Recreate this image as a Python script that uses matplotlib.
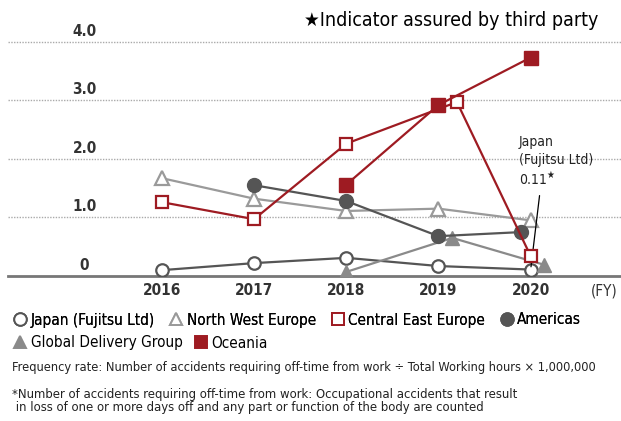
import matplotlib.pyplot as plt
from matplotlib.lines import Line2D

plt.rcParams['font.family'] = ['DejaVu Sans']
plt.rcParams['font.stretch'] = 'condensed'

years = [2016, 2017, 2018, 2019, 2020]
yticks = [0, 1.0, 2.0, 3.0, 4.0]
ytick_labels = ['0', '1.0', '2.0', '3.0', '4.0']

japan = [0.10, 0.22, 0.31, 0.17, 0.11]
nw_europe = [1.67, 1.32, 1.11, 1.15, 0.95]
ce_europe = [1.26, 0.97, 2.26, 2.97, 0.34]
americas_years = [2017, 2018, 2019, 2020]
americas = [1.55, 1.28, 0.68, 0.75]
gdg_years = [2018, 2019, 2020]
gdg = [0.07, 0.65, 0.19]
oceania_years = [2018, 2019, 2020]
oceania = [1.56, 2.92, 3.73]

red = '#9e1b22'
dark = '#555555'
light = '#9a9a9a'
mid = '#8a8a8a'

fig = plt.figure(figsize=(6.21, 4.21), dpi=100)
ax = fig.add_axes([8 / 621, 1 - 276 / 421, 613 / 621, 246 / 421])
ax.set_xlim(2014.33, 2020.98)
ax.set_ylim(0, 4.2)

# small horizontal nudges so overlapping markers stay visible
ce_shift = [0, 0, 0, 0.2, 0]
am_shift = [0, 0, 0, -0.1]
gdg_shift = [0, 0.15, 0.15]

ax.plot(years, japan, color=dark, lw=1.6, marker='o', ms=9,
        mfc='white', mec=dark, mew=1.6, zorder=3)
ax.plot(years, nw_europe, color=light, lw=1.6, marker='^', ms=10,
        mfc='white', mec=light, mew=1.6, zorder=3)
ax.plot([y + s for y, s in zip(gdg_years, gdg_shift)], gdg, color=mid, lw=1.6,
        marker='^', ms=10, mfc=mid, mec=mid, zorder=3)
ax.plot([y + s for y, s in zip(americas_years, am_shift)], americas, color=dark,
        lw=1.6, marker='o', ms=10, mfc=dark, mec=dark, zorder=4)
ax.plot([y + s for y, s in zip(years, ce_shift)], ce_europe, color=red, lw=1.6,
        marker='s', ms=9, mfc='white', mec=red, mew=1.6, zorder=5)
ax.plot(oceania_years, oceania, color=red, lw=1.6, marker='s', ms=10,
        mfc=red, mec=red, zorder=5)

# gridlines and axis
for v in yticks[1:]:
    ax.axhline(v, color='#aaaaaa', lw=1, ls=(0, (1, 1)), zorder=1)
for sp in ax.spines.values():
    sp.set_visible(False)
ax.axhline(0, color='#777777', lw=2, zorder=2, clip_on=False)
ax.set_xticks([])
ax.set_yticks([])
for v, lab in zip(yticks, ytick_labels):
    ax.text(2015.16, v + 0.05, lab, ha='center', va='bottom', fontsize=11,
            fontweight='bold', color='#333333')
for y in years:
    ax.text(y, -0.12, str(y), ha='center', va='top', fontsize=11,
            fontweight='bold', color='#333333', clip_on=False)
ax.text(2020.8, -0.12, '(FY)', ha='center', va='top', fontsize=11,
        color='#333333', clip_on=False)

# annotation
ax.annotate('', xy=(2020, 0.11), xytext=(2020.1, 1.42),
            arrowprops=dict(arrowstyle='-', color='black', lw=0.9))
ax.text(2019.87, 1.5, 'Japan\n(Fujitsu Ltd)\n0.11$^\u2605$', ha='left', va='bottom',
        fontsize=10, color='#222222', linespacing=1.3)

fig.text(598 / 621, 1 - 20 / 421, '\u2605Indicator assured by third party',
         ha='right', va='center', fontsize=14, color='black')

# legend
row1 = [('Japan (Fujitsu Ltd)', 'o', 'white', dark),
        ('North West Europe', '^', 'white', light),
        ('Central East Europe', 's', 'white', red),
        ('Americas', 'o', dark, dark)]
row2 = [('Global Delivery Group', '^', mid, mid),
        ('Oceania', 's', red, red)]
h1 = [Line2D([], [], ls='none', marker=m, ms=9, mfc=f, mec=e, mew=1.4, label=l)
      for l, m, f, e in row1]
h2 = [Line2D([], [], ls='none', marker=m, ms=9, mfc=f, mec=e, mew=1.4, label=l)
      for l, m, f, e in row2]
leg1 = fig.legend(handles=h1, loc='center left', bbox_to_anchor=(0.005, 1 - 320 / 421),
                  ncol=4, frameon=False, fontsize=11, handletextpad=0.1,
                  columnspacing=0.8, handlelength=1.2, borderpad=0)
leg2 = fig.legend(handles=h2, loc='center left', bbox_to_anchor=(0.005, 1 - 343 / 421),
                  ncol=2, frameon=False, fontsize=11, handletextpad=0.1,
                  columnspacing=0.6, handlelength=1.2, borderpad=0)
fig.add_artist(leg1)

fig.text(12 / 621, 1 - 367 / 421,
         'Frequency rate: Number of accidents requiring off-time from work \u00f7 '
         'Total Working hours \u00d7 1,000,000',
         ha='left', va='center', fontsize=9.2, color='#222222')
fig.text(12 / 621, 1 - 401 / 421,
         '*Number of accidents requiring off-time from work: Occupational accidents that result\n'
         ' in loss of one or more days off and any part or function of the body are counted',
         ha='left', va='center', fontsize=9.4, color='#222222', linespacing=1.05)

fig.savefig('out.png', dpi=100)
